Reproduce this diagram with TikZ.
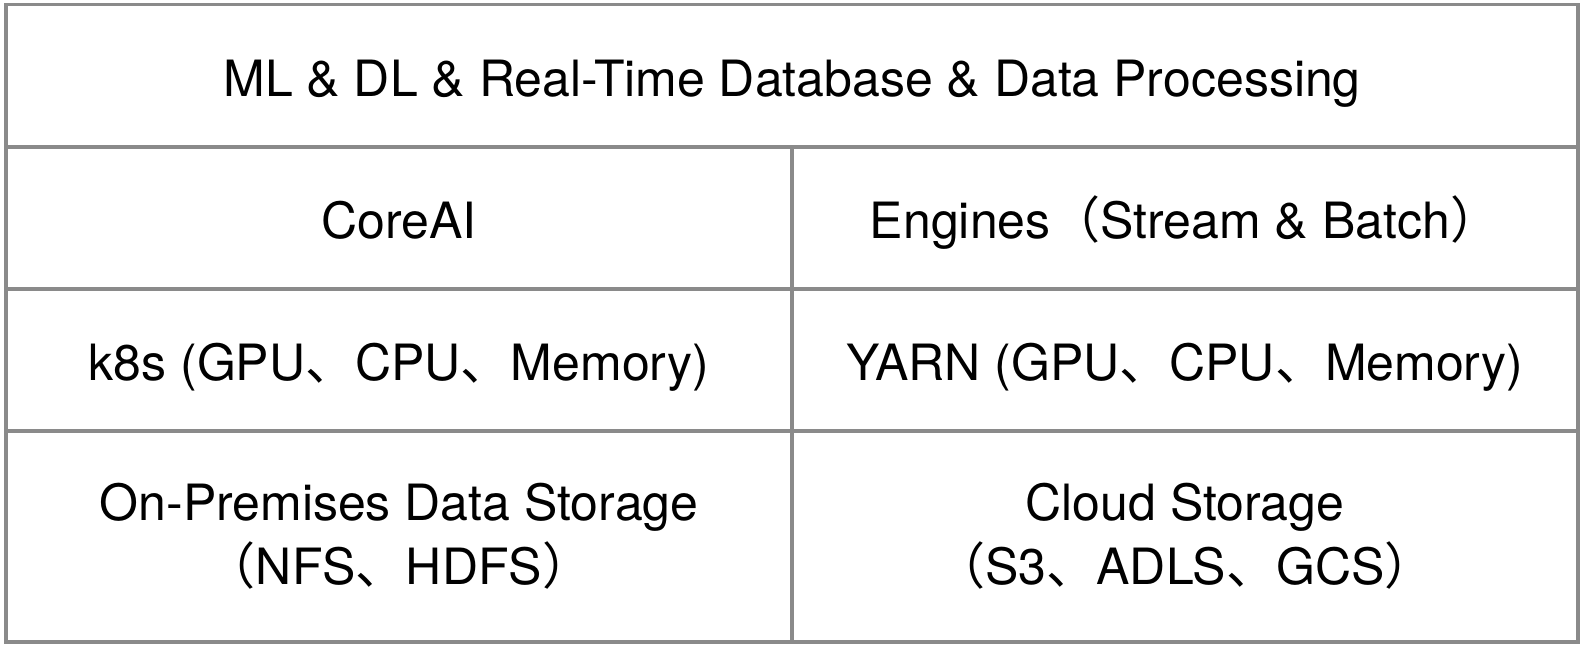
\documentclass[tikz,border=0pt]{standalone}
\usepackage{fontspec}
\setmainfont{TeX Gyre Heros}
\newfontfamily\cjk{Noto Sans CJK SC}
\newcommand{\dun}{{\cjk 、}}
\newcommand{\lpar}{{\cjk （}}
\newcommand{\rpar}{{\cjk ）}}
\definecolor{gridgray}{HTML}{8A8A8A}
\tikzset{
  cell/.style={draw=gridgray, line width=3.2pt, inner sep=0pt, align=center,
    font=\fontsize{50}{64}\selectfont},
  oneline/.style={text height=41pt, text depth=0pt},
  wide/.style={cell, oneline, minimum width=1572pt},
  half/.style={cell, minimum width=786pt},
}

\begin{document}
\begin{tikzpicture}[x=1pt,y=1pt]
\useasboundingbox (0,0) rectangle (1584,-652);
% top layer
\node[wide, minimum height=142.5pt] (apps) at (792,-75.75) {ML \& DL \& Real-Time Database \& Data Processing};
% compute
\node[half, oneline, minimum height=142pt] (coreai) at (399,-218) {CoreAI};
\node[half, oneline, minimum height=142pt] (engines) at (1185,-218) {Engines\lpar Stream \& Batch\rpar};
% resources
\node[half, oneline, minimum height=142pt] (kube) at (399,-360) {k8s (GPU\dun CPU\dun Memory)};
\node[half, oneline, minimum height=142pt] (yarn) at (1185,-360) {YARN (GPU\dun CPU\dun Memory)};
% storage
\node[half, minimum height=211pt] (onprem) at (399,-536.5) {On-Premises Data Storage\\\lpar NFS\dun HDFS\rpar};
\node[half, minimum height=211pt] (cloud) at (1185,-536.5) {Cloud Storage\\\lpar S3\dun ADLS\dun GCS\rpar};
\end{tikzpicture}
\end{document}
